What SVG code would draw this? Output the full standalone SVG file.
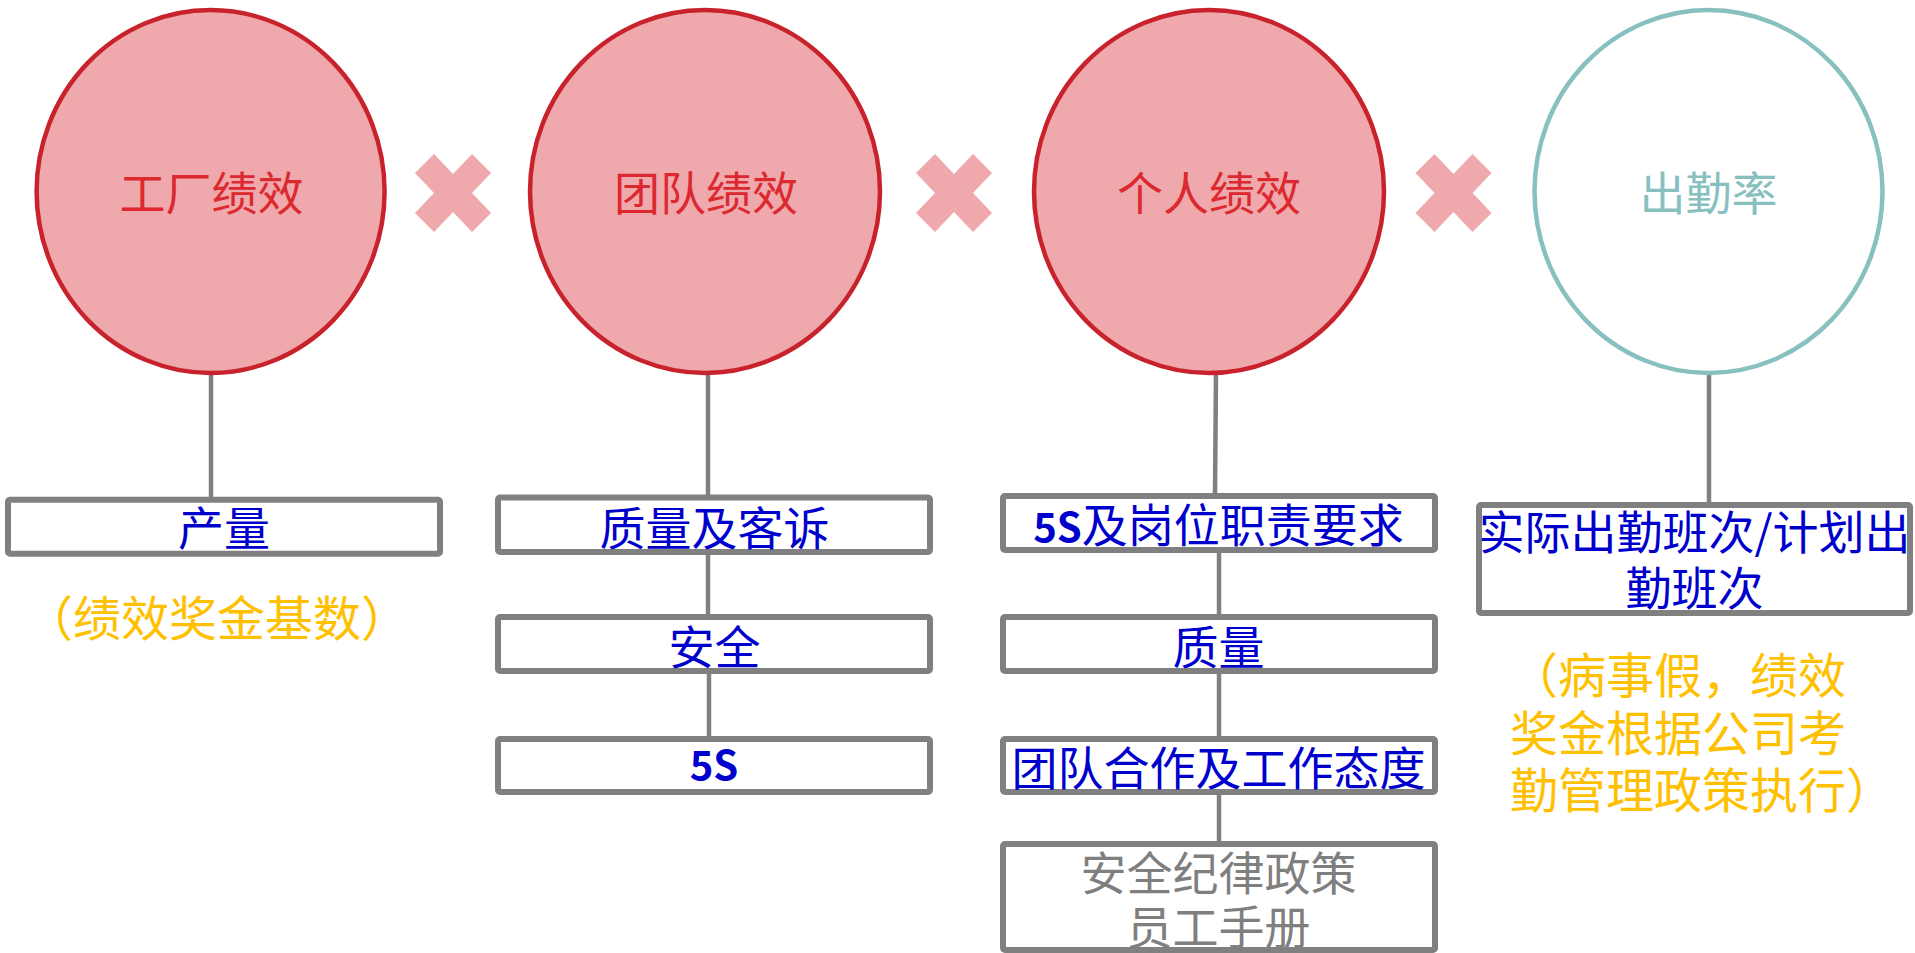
<svg xmlns="http://www.w3.org/2000/svg" width="1915" height="953" viewBox="0 0 1915 953">
<defs>
<style>
.perf{fill:#EFA8AC;stroke:#C8232C;stroke-width:4.5}
.att{fill:#FFFFFF;stroke:#88C0BF;stroke-width:4.5}
.ct{font-family:"Noto Sans CJK SC","Noto Sans",sans-serif;font-size:46px;text-anchor:middle;fill:#DC2930}
.box{fill:#FFFFFF;stroke:#808080;stroke-width:6}
.bt{font-family:"Noto Sans CJK SC","Noto Sans",sans-serif;font-size:46px;text-anchor:middle;fill:#0000CC}
.b5{font-weight:bold;font-size:40px}
.gt{fill:#7F7F7F}
.ot{font-family:"Noto Sans CJK SC","Noto Sans",sans-serif;font-size:48px;fill:#FFC000}
.x{fill:#EFA8AC}
.conn line{stroke:#808080;stroke-width:4.5}
</style>
<polygon id="xmark" points="-38,-20 -19,-39 0,-19 19,-39 38,-20 19,0 38,20 19,39 0,19 -19,39 -38,20 -19,0"/>
</defs>
<rect width="1915" height="953" fill="#FFFFFF"/>

<g id="connectors" class="conn">
<line x1="211" y1="372" x2="211" y2="497"/>
<line x1="708" y1="372" x2="708" y2="495"/>
<line x1="708" y1="552" x2="708" y2="617"/>
<line x1="709" y1="671" x2="709" y2="739"/>
<line x1="1216" y1="372" x2="1215" y2="494"/>
<line x1="1219" y1="552" x2="1219" y2="617"/>
<line x1="1219" y1="672" x2="1219" y2="739"/>
<line x1="1219" y1="793" x2="1219" y2="844"/>
<line x1="1709" y1="372" x2="1709" y2="503"/>
</g>

<g id="factory">
<ellipse class="perf" cx="210.6" cy="191.5" rx="174" ry="181.5"/>
<text class="ct" x="211.5" y="209.5">工厂绩效</text>
</g>
<g id="team">
<ellipse class="perf" cx="705" cy="191.5" rx="175" ry="181.5"/>
<text class="ct" x="706" y="209.5">团队绩效</text>
</g>
<g id="personal">
<ellipse class="perf" cx="1209" cy="191.5" rx="175" ry="181.5"/>
<text class="ct" x="1209" y="209.5">个人绩效</text>
</g>
<g id="attendance">
<ellipse class="att" cx="1708.5" cy="191.5" rx="174" ry="181.5"/>
<text class="ct" x="1708.5" y="209.5" fill="#88C0BF" style="fill:#88C0BF">出勤率</text>
</g>

<g id="times1"><use href="#xmark" class="x" x="453" y="193"/></g>
<g id="times2"><use href="#xmark" class="x" x="954" y="193"/></g>
<g id="times3"><use href="#xmark" class="x" x="1453.5" y="193"/></g>

<g id="output">
<rect class="box" x="8" y="499.7" width="432" height="54" rx="2"/>
<text class="bt" x="224" y="545">产量</text>
</g>
<g id="output-note">
<text class="ot" x="25" y="636">（绩效奖金基数）</text>
</g>

<g id="quality-complaint">
<rect class="box" x="498" y="497.5" width="432" height="54.5" rx="2"/>
<text class="bt" x="714.5" y="544.5">质量及客诉</text>
</g>
<g id="safety">
<rect class="box" x="498" y="617" width="432" height="54" rx="2"/>
<text class="bt" x="714.5" y="663.5">安全</text>
</g>
<g id="team-5s">
<rect class="box" x="498" y="739" width="432" height="53" rx="2"/>
<text class="bt b5" x="714" y="780">5S</text>
</g>

<g id="personal-5s">
<rect class="box" x="1003" y="496" width="432" height="54" rx="2"/>
<text class="bt" x="1218.5" y="541.5"><tspan class="b5">5S</tspan>及岗位职责要求</text>
</g>
<g id="personal-quality">
<rect class="box" x="1003" y="617" width="432" height="54" rx="2"/>
<text class="bt" x="1218.5" y="663.5">质量</text>
</g>
<g id="teamwork">
<rect class="box" x="1003" y="739" width="432" height="53" rx="2"/>
<text class="bt" x="1218.5" y="784.5">团队合作及工作态度</text>
</g>
<g id="discipline">
<rect class="box" x="1003" y="844" width="432" height="106" rx="2"/>
<text class="bt gt" x="1218.5" y="889.5">安全纪律政策</text>
<text class="bt gt" x="1218.5" y="943.5">员工手册</text>
</g>

<g id="attendance-ratio">
<rect class="box" x="1479" y="505" width="431" height="108" rx="2"/>
<text class="bt" x="1694.5" y="548.5">实际出勤班次/计划出</text>
<text class="bt" x="1694.5" y="604.5">勤班次</text>
</g>
<g id="attendance-note">
<text class="ot" x="1510" y="693">（病事假，绩效</text>
<text class="ot" x="1510" y="751">奖金根据公司考</text>
<text class="ot" x="1510" y="808">勤管理政策执行）</text>
</g>
</svg>
